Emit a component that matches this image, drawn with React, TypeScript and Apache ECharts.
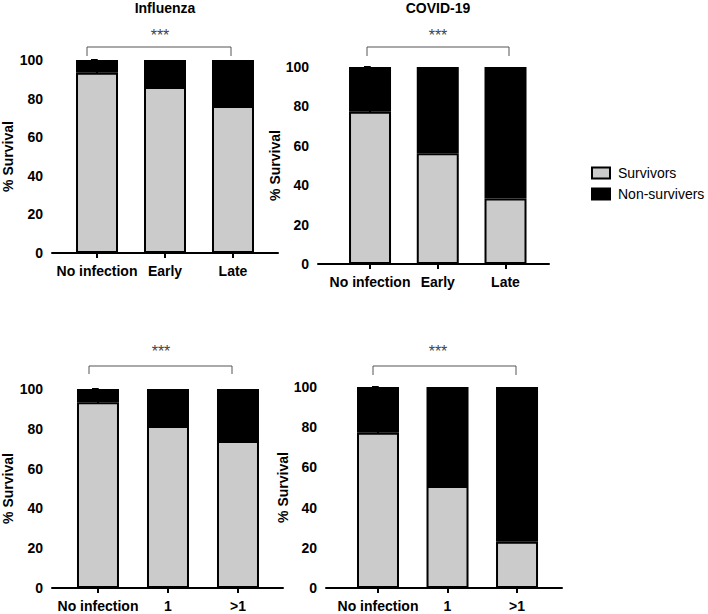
import React, { useEffect, useRef } from "react";
import * as echarts from "echarts";

// ---- data ----
const timingCategories = ["No infection", "Early", "Late"];
const countCategories = ["No infection", "1", ">1"];
const yTickValues = [0, 20, 40, 60, 80, 100];
const seriesNames = ["Survivors", "Non-survivers"];

const fluTimingSurvivors = [93.4, 86.0, 76.2];
const fluTimingNonSurvivors = [6.6, 14.0, 23.8];
const covidTimingSurvivors = [77.3, 56.2, 33.2];
const covidTimingNonSurvivors = [22.7, 43.8, 66.8];
const fluCountSurvivors = [93.3, 81.4, 73.9];
const fluCountNonSurvivors = [6.7, 18.6, 26.1];
const covidCountSurvivors = [77.3, 50.7, 23.0];
const covidCountNonSurvivors = [22.7, 49.3, 77.0];

const panelTitles = ["Influenza", "COVID-19", "", ""];
const significance = ["***", "***", "***", "***"];

// ---- layout (positions only) ----
const panels = [
  { cats: timingCategories, surv: fluTimingSurvivors, non: fluTimingNonSurvivors, left: 52, top: 60, width: 226, height: 193, xmin: -0.662, xmax: 2.662, nameGap: 37 },
  { cats: timingCategories, surv: covidTimingSurvivors, non: covidTimingNonSurvivors, left: 318, top: 67, width: 231, height: 197, xmin: -0.768, xmax: 2.642, nameGap: 31 },
  { cats: countCategories, surv: fluCountSurvivors, non: fluCountNonSurvivors, left: 52, top: 389, width: 231, height: 199, xmin: -0.657, xmax: 2.643, nameGap: 37 },
  { cats: countCategories, surv: covidCountSurvivors, non: covidCountNonSurvivors, left: 326, top: 387, width: 236, height: 201, xmin: -0.748, xmax: 2.647, nameGap: 33 },
];

const titlePos = [
  { x: 165, y: 8 },
  { x: 438, y: 8 },
];
const brackets = [
  { x1: 87, x2: 231, y: 47, yEnd: 56, sx: 160, sy: 35 },
  { x1: 367, x2: 509, y: 47, yEnd: 56, sx: 438, sy: 35 },
  { x1: 89, x2: 232, y: 366, yEnd: 374, sx: 161, sy: 351 },
  { x1: 373, x2: 516, y: 366, yEnd: 375, sx: 438, sy: 351 },
];

const FONT = '"Liberation Sans", Arial, Helvetica, sans-serif';
const GRAY = "#cbcbcb";

export default function App() {
  const ref = useRef<HTMLDivElement>(null);
  useEffect(() => {
    if (!ref.current) return;
    const chart = echarts.init(ref.current, null, { renderer: "svg" });
    const grid: any[] = [];
    const xAxis: any[] = [];
    const yAxis: any[] = [];
    const series: any[] = [];
    panels.forEach((p, i) => {
      grid.push({ left: p.left, top: p.top, width: p.width, height: p.height, containLabel: false });
      const ticks = p.cats.map((_, k) => k);
      xAxis.push({
        type: "value",
        gridIndex: i,
        min: p.xmin,
        max: p.xmax,
        splitLine: { show: false },
        axisLine: { show: true, lineStyle: { color: "#000", width: 2 } },
        axisTick: { show: true, customValues: ticks, length: 5, lineStyle: { color: "#000", width: 2 } },
        axisLabel: {
          customValues: ticks,
          margin: 11,
          formatter: (v: number) => p.cats[Math.round(v)] ?? "",
          color: "#000",
          fontFamily: FONT,
          fontWeight: "bold",
          fontSize: 14,
        },
      });
      yAxis.push({
        type: "value",
        gridIndex: i,
        min: 0,
        max: 100,
        interval: 20,
        name: "% Survival",
        nameLocation: "middle",
        nameGap: p.nameGap,
        nameTextStyle: { color: "#000", fontFamily: FONT, fontWeight: "bold", fontSize: 14 },
        splitLine: { show: false },
        axisLine: { show: true, lineStyle: { color: "#000", width: 2 } },
        axisTick: { show: true, length: 6, lineStyle: { color: "#000", width: 2 } },
        axisLabel: { margin: 9, color: "#000", fontFamily: FONT, fontWeight: "bold", fontSize: 14 },
      });
      // value first (dim 0 -> y, stacked), category position second (dim 1 -> x)
      series.push({
        name: seriesNames[0],
        type: "bar",
        xAxisIndex: i,
        yAxisIndex: i,
        stack: "s" + i,
        barWidth: 42,
        encode: { x: 1, y: 0 },
        data: p.surv.map((v, k) => [v, k]),
        itemStyle: { color: GRAY, borderColor: "#000", borderWidth: 2 },
      });
      series.push({
        name: seriesNames[1],
        type: "bar",
        xAxisIndex: i,
        yAxisIndex: i,
        stack: "s" + i,
        barWidth: 42,
        encode: { x: 1, y: 0 },
        data: p.non.map((v, k) => [v, k]),
        itemStyle: { color: "#000", borderColor: "#000", borderWidth: 2 },
      });
    });

    const graphic: any[] = [];
    titlePos.forEach((t, i) => {
      graphic.push({
        type: "text",
        x: t.x,
        y: t.y,
        style: { text: panelTitles[i], align: "center", verticalAlign: "middle", fill: "#000", fontFamily: FONT, fontWeight: "bold", fontSize: 14 },
      });
    });
    brackets.forEach((b, i) => {
      graphic.push({
        type: "polyline",
        shape: { points: [[b.x1, b.yEnd], [b.x1, b.y], [b.x2, b.y], [b.x2, b.yEnd]] },
        style: { stroke: "#555", lineWidth: 1, fill: null },
      });
      graphic.push({
        type: "text",
        x: b.sx,
        y: b.sy,
        style: { text: significance[i], align: "center", verticalAlign: "middle", fill: "#444", fontFamily: FONT, fontSize: 16 },
      });
    });

    chart.setOption({
      animation: false,
      backgroundColor: "#fff",
      grid,
      xAxis,
      yAxis,
      series,
      legend: {
        data: seriesNames,
        orient: "vertical",
        left: 591,
        top: 166,
        padding: 0,
        itemWidth: 18,
        itemHeight: 11,
        itemGap: 7,
        icon: "rect",
        textStyle: { color: "#000", fontFamily: FONT, fontSize: 14, padding: [0, 0, 0, 3] },
      },
      graphic,
    });
    return () => chart.dispose();
  }, []);
  return <div ref={ref} style={{ position: "fixed", left: 0, top: 0, width: 708, height: 614 }} />;
}
